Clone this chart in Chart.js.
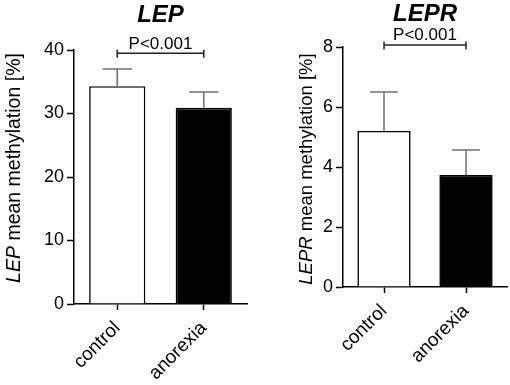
<!DOCTYPE html>
<html>
<head>
<meta charset="utf-8">
<script src="https://cdn.jsdelivr.net/npm/chart.js@4"></script>
<style>
  html, body { margin: 0; padding: 0; background: #fff; }
  .panel { position: absolute; top: 0; width: 255px; height: 385px; }
</style>
</head>
<body>
<div class="panel" style="left:0"><canvas id="lepChart" width="255" height="385"></canvas></div>
<div class="panel" style="left:255px"><canvas id="leprChart" width="255" height="385"></canvas></div>
<script>
const groups = ['control', 'anorexia'];

const lepMean = [34.3, 30.9];
const lepSd = [2.7, 2.5];
const lepTicks = [0, 10, 20, 30, 40];

const leprMean = [5.2, 3.73];
const leprSd = [1.3, 0.84];
const leprTicks = [0, 2, 4, 6, 8];

const pLabels = ['P<0.001', 'P<0.001'];
const bracketLevels = [39.5, 8.07];

const FONT = 'Arial, "Liberation Sans", Helvetica, sans-serif';

// error bars, significance bracket, title and y title with italic gene name
const extras = {
  id: 'extras',
  afterDatasetsDraw(chart, args, opts) {
    const ctx = chart.ctx;
    const xs = chart.scales.x, ys = chart.scales.y;
    const area = chart.chartArea;
    const bars = chart.getDatasetMeta(0).data;
    ctx.save();

    ctx.strokeStyle = '#6f6f6f';
    ctx.lineWidth = 1.5;
    bars.forEach((bar, i) => {
      const top = ys.getPixelForValue(opts.mean[i] + opts.sd[i]);
      const half = bar.width * 0.26;
      ctx.beginPath();
      ctx.moveTo(bar.x, bar.y);
      ctx.lineTo(bar.x, top);
      ctx.moveTo(bar.x - half, top);
      ctx.lineTo(bar.x + half, top);
      ctx.stroke();
    });

    const x0 = xs.getPixelForValue(0), x1 = xs.getPixelForValue(1);
    const by = ys.getPixelForValue(opts.bracket);
    ctx.strokeStyle = '#222';
    ctx.beginPath();
    ctx.moveTo(x0, by); ctx.lineTo(x1, by);
    ctx.moveTo(x0, by - 3.5); ctx.lineTo(x0, by + 4.5);
    ctx.moveTo(x1, by - 3.5); ctx.lineTo(x1, by + 4.5);
    ctx.stroke();

    ctx.fillStyle = '#000';
    ctx.textAlign = 'center';
    ctx.textBaseline = 'alphabetic';
    ctx.font = '17px ' + FONT;
    ctx.fillText(opts.pText, (x0 + x1) / 2, by - 4.5);

    ctx.font = 'italic bold 24px ' + FONT;
    ctx.fillText(opts.title, (area.left + area.right) / 2, opts.titleBase);

    // rotated y title: italic gene symbol + plain rest
    const italic = 'italic ' + opts.yTitleSize + 'px ' + FONT;
    const plain = opts.yTitleSize + 'px ' + FONT;
    ctx.font = italic;
    const w1 = ctx.measureText(opts.title).width;
    ctx.font = plain;
    const w2 = ctx.measureText(opts.yRest).width;
    ctx.translate(opts.yTitleX, opts.yTitleY);
    ctx.rotate(-Math.PI / 2);
    ctx.textAlign = 'left';
    ctx.textBaseline = 'middle';
    const start = -(w1 + w2) / 2;
    ctx.font = italic;
    ctx.fillText(opts.title, start, 0);
    ctx.font = plain;
    ctx.fillText(opts.yRest, start + w1, 0);
    ctx.restore();
  }
};

function makeChart(id, cfg) {
  const ctx = document.getElementById(id).getContext('2d');
  return new Chart(ctx, {
    type: 'bar',
    data: {
      labels: groups,
      datasets: [{
        data: cfg.mean,
        backgroundColor: ['#ffffff', '#000000'],
        borderColor: '#000',
        borderWidth: 1.6,
        barPercentage: 0.65,
        categoryPercentage: 1
      }]
    },
    options: {
      responsive: false,
      animation: false,
      devicePixelRatio: 1,
      layout: { padding: { top: cfg.top, right: cfg.right, left: 0, bottom: 0 } },
      plugins: {
        legend: { display: false },
        tooltip: { enabled: false },
        extras: {
          mean: cfg.mean, sd: cfg.sd, bracket: cfg.bracket, pText: cfg.pText,
          title: cfg.title, titleBase: cfg.titleBase, yRest: ' mean methylation [%]',
          yTitleX: cfg.yTitleX, yTitleY: cfg.yTitleY, yTitleSize: cfg.yTitleSize
        }
      },
      scales: {
        x: {
          afterFit: s => { s.height = cfg.xHeight; },
          border: { color: '#000', width: 1.5 },
          grid: { drawOnChartArea: false, drawTicks: true, tickLength: 6, tickColor: '#000', tickWidth: 1.5, offset: false },
          ticks: { minRotation: 45, maxRotation: 45, color: '#000', padding: 7, font: { family: FONT, size: 19 } }
        },
        y: {
          min: cfg.ticks[0],
          max: cfg.ticks[cfg.ticks.length - 1],
          afterFit: s => { s.width = cfg.yWidth; },
          border: { color: '#000', width: 1.5 },
          grid: { drawOnChartArea: false, drawTicks: true, tickLength: 7, tickColor: '#000', tickWidth: 1.5 },
          ticks: { stepSize: cfg.ticks[1] - cfg.ticks[0], color: '#000', padding: 3, font: { family: FONT, size: 18 } }
        }
      }
    },
    plugins: [extras]
  });
}

makeChart('lepChart', {
  mean: lepMean, sd: lepSd, ticks: lepTicks, bracket: bracketLevels[0], pText: pLabels[0],
  title: 'LEP', titleBase: 22, top: 50, right: 8, yWidth: 74, xHeight: 81,
  yTitleX: 15, yTitleY: 168, yTitleSize: 19.5
});
makeChart('leprChart', {
  mean: leprMean, sd: leprSd, ticks: leprTicks, bracket: bracketLevels[1], pText: pLabels[1],
  title: 'LEPR', titleBase: 21, top: 47, right: 3, yWidth: 88, xHeight: 98,
  yTitleX: 52, yTitleY: 169, yTitleSize: 18.5
});
</script>
</body>
</html>
